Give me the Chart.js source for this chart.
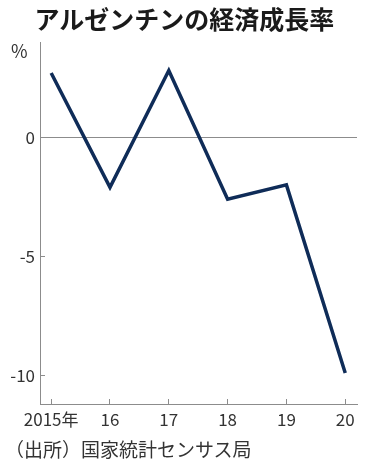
<!DOCTYPE html>
<html>
<head>
<meta charset="utf-8">
<script src="https://cdn.jsdelivr.net/npm/chart.js@4"></script>
<style>
  html, body { margin: 0; padding: 0; background: #fff; }
  #wrap { position: relative; width: 369px; height: 468px; overflow: hidden; }
  #title {
    position: absolute; left: 0; top: 1px; width: 369px; text-align: center;
    font: bold 25px/34px "Noto Sans CJK JP", sans-serif; color: #1a1a1a;
  }
  #unit {
    position: absolute; left: 11px; top: 38px;
    font: 18px/24px "Noto Sans CJK JP", sans-serif; color: #333;
  }
  #source {
    position: absolute; left: 5px; top: 435px;
    font: 19px/28px "Noto Sans CJK JP", sans-serif; color: #333;
  }
  canvas { position: absolute; left: 0; top: 0; }
</style>
</head>
<body>
<div id="wrap">
  <canvas id="c" width="369" height="468"></canvas>
  <div id="title">アルゼンチンの経済成長率</div>
  <div id="unit">%</div>
  <div id="source">（出所）国家統計センサス局</div>
</div>
<script>
// ── DATA ──
const years  = [2015, 2016, 2017, 2018, 2019, 2020];
const growth = [2.7, -2.1, 2.8, -2.6, -2.0, -9.9];
const yTicks = [0, -5, -10];

const AXIS = '#8c8c8c';
const TEXT = '#333333';
const NAVY = '#0f2c58';
const TICK_FONT = { family: "'Noto Sans CJK JP', sans-serif", size: 17 };

const points = years.map((y, i) => ({ x: y, y: growth[i] }));

new Chart(document.getElementById('c'), {
  type: 'line',
  data: {
    datasets: [{
      data: points,
      borderColor: NAVY,
      borderWidth: 3.5,
      pointRadius: 0,
      tension: 0,
      fill: false,
    }],
  },
  options: {
    responsive: false,
    animation: false,
    layout: { padding: { top: 42, right: 12, left: 0, bottom: 0 } },
    plugins: { legend: { display: false }, tooltip: { enabled: false } },
    scales: {
      x: {
        type: 'linear',
        min: 2014.81,
        max: 2020.2,
        afterFit: s => { s.height = 64; s.paddingLeft = 0; s.paddingRight = 0; },
        border: { color: AXIS, width: 1 },
        grid: { drawOnChartArea: false, drawTicks: true, tickLength: -5, color: AXIS },
        ticks: {
          stepSize: 1,
          includeBounds: false,
          maxRotation: 0,
          minRotation: 0,
          autoSkip: false,
          padding: 10,
          color: TEXT,
          font: TICK_FONT,
          callback: v => v === years[0] ? v + '年' : String(v).slice(2),
        },
      },
      y: {
        min: -11.2,
        max: 4.0,
        afterFit: s => { s.width = 40; },
        afterBuildTicks: s => { s.ticks = yTicks.map(v => ({ value: v })); },
        border: { color: AXIS, width: 1 },
        grid: {
          drawTicks: true,
          tickLength: -5,
          color: ctx => ctx.tick && ctx.tick.value === 0 ? AXIS : 'rgba(0,0,0,0)',
          tickColor: AXIS,
        },
        ticks: {
          padding: 10,
          color: TEXT,
          font: TICK_FONT,
        },
      },
    },
  },
});
</script>
</body>
</html>
